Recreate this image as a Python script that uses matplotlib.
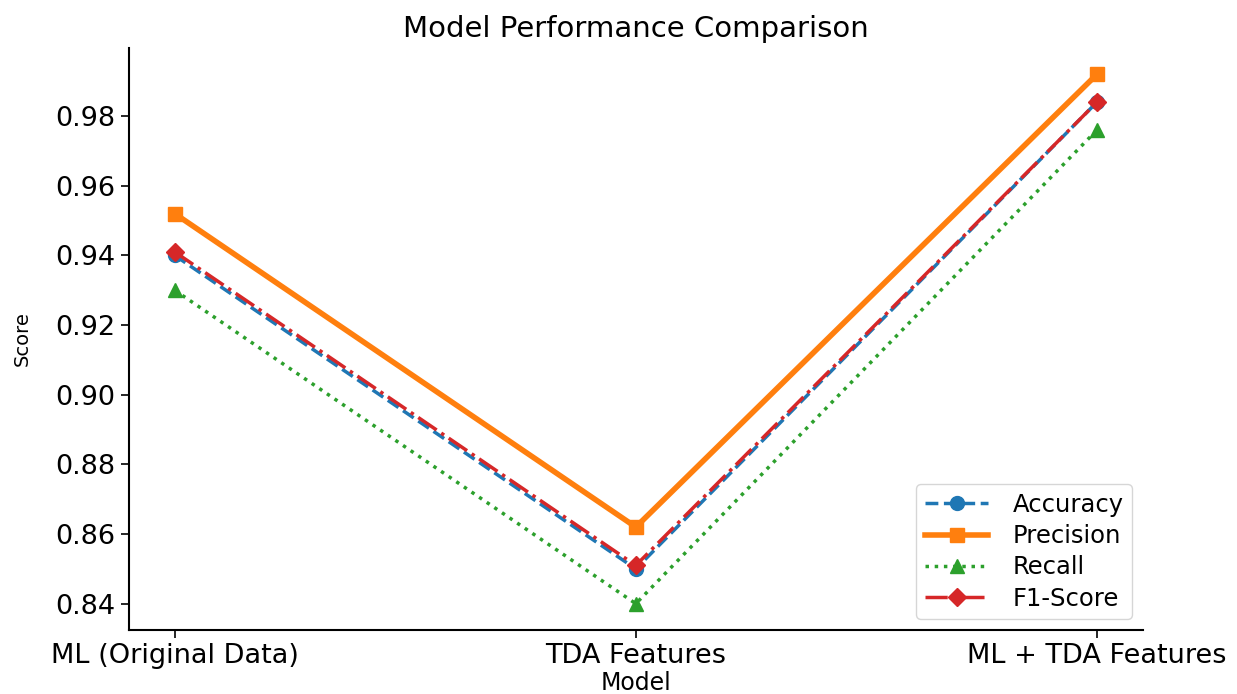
import numpy as np
import matplotlib.pyplot as plt

# Data
models = ['ML (Original Data)', 'TDA Features', 'ML + TDA Features']
accuracy = [0.940, 0.850, 0.984]
precision = [0.952, 0.862, 0.992]
recall = [0.930, 0.840, 0.976]
f1_score = [0.941, 0.851, 0.984]

fig = plt.figure(figsize=(12.37, 6.94), dpi=100)
ax = fig.add_axes([0.104, 0.092, 0.820, 0.839])

x = np.arange(len(models))
ax.plot(x, accuracy, '--o', color='#1f77b4', lw=2.5, ms=10, label='Accuracy')
ax.plot(x, precision, '-s', color='#ff7f0e', lw=4, ms=10, label='Precision')
ax.plot(x, recall, ':^', color='#2ca02c', lw=2.5, ms=10, label='Recall')
ax.plot(x, f1_score, '-.D', color='#d62728', lw=2.5, ms=9, label='F1-Score')

ax.set_xticks(x)
ax.set_xticklabels(models)
ax.set_yticks(np.arange(0.84, 0.981, 0.02))
ax.tick_params(labelsize=19.5, length=6, width=1.2)
ax.tick_params(axis='x', pad=3)
ax.set_xlabel('Model', fontsize=17, labelpad=2)
ax.set_ylabel('Score', fontsize=14, labelpad=17)
ax.set_title('Model Performance Comparison', fontsize=21, pad=8)

for s in ['top', 'right']:
    ax.spines[s].set_visible(False)
for s in ['left', 'bottom']:
    ax.spines[s].set_linewidth(1.5)

ax.legend(loc='lower right', fontsize=17.5, handlelength=2.6,
          borderaxespad=0.45, borderpad=0.35, labelspacing=0.3,
          handletextpad=1.0)

fig.savefig('out.png', dpi=100)
